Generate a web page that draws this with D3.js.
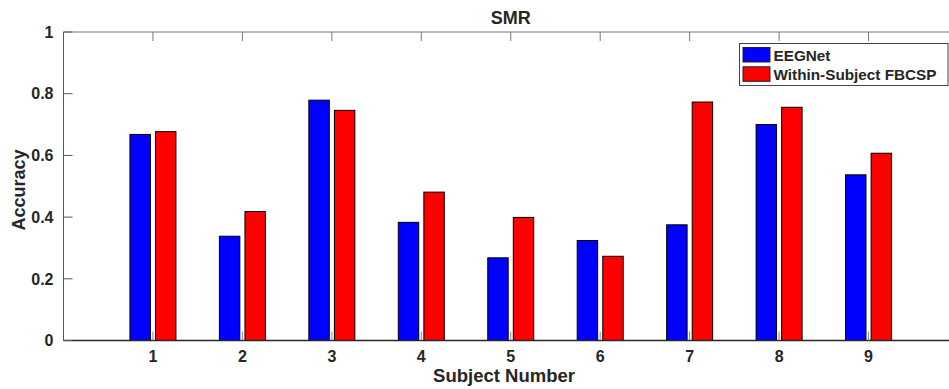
<!DOCTYPE html>
<html><head><meta charset="utf-8">
<script src="https://cdn.jsdelivr.net/npm/d3@7"></script>
<style>body{margin:0;background:#fff}svg{display:block}text{font-family:"Liberation Sans",Arial,Helvetica,sans-serif;font-weight:bold;fill:#262626}</style>
</head><body><svg id="c" width="949" height="389"></svg>
<script>
const subjects = [1,2,3,4,5,6,7,8,9];
const eegnet = [0.668,0.338,0.779,0.383,0.268,0.324,0.375,0.700,0.537];
const fbcsp  = [0.677,0.418,0.746,0.481,0.399,0.273,0.773,0.756,0.607];
const seriesNames = ["EEGNet","Within-Subject FBCSP"];
const seriesColors = ["#0000ff","#ff0000"];
const yTicks = [0,0.2,0.4,0.6,0.8,1];
const yTickLabels = ["0","0.2","0.4","0.6","0.8","1"];

const svg = d3.select("#c");
const L = 63.5, R = 958, T = 32, B = 340.5;
const x = d3.scaleLinear().domain([0,10]).range([L,R]);
const y = d3.scaleLinear().domain([0,1]).range([B,T]);
const axisColor = "#262626";
const series = [eegnet, fbcsp];
const gw = 2/3.5, off = gw/4, bw = gw/2*0.8;

// bars
series.forEach((vals,si)=>{
  svg.append("g").selectAll("rect").data(vals).enter().append("rect")
    .attr("x",(d,i)=>x(subjects[i]+(si===0?-off:off)-bw/2))
    .attr("width",x(bw)-x(0))
    .attr("y",d=>y(d)).attr("height",d=>y(0)-y(d))
    .attr("fill",seriesColors[si]).attr("stroke","#000").attr("stroke-width",1);
});

// box
const g = svg.append("g").attr("stroke",axisColor).attr("stroke-width",1).attr("fill","none");
g.append("line").attr("x1",L).attr("x2",R).attr("y1",B).attr("y2",B).attr("stroke-width",1.3);
g.append("line").attr("x1",L).attr("x2",R).attr("y1",T).attr("y2",T).attr("stroke","#777");
g.append("line").attr("x1",L).attr("x2",L).attr("y1",T).attr("y2",B).attr("stroke","#555");
g.append("line").attr("x1",R).attr("x2",R).attr("y1",T).attr("y2",B).attr("stroke","#777");

// y ticks
const tl = 9;
yTicks.forEach((t,i)=>{
  g.append("line").attr("x1",L).attr("x2",L+tl).attr("y1",y(t)).attr("y2",y(t)).attr("stroke","#555");
  g.append("line").attr("x1",R).attr("x2",R-tl).attr("y1",y(t)).attr("y2",y(t)).attr("stroke","#777");
  svg.append("text").attr("x",L-10).attr("y",y(t)).attr("dy","0.36em")
    .attr("text-anchor","end").attr("font-size",16).text(yTickLabels[i]);
});
// x ticks
subjects.forEach(s=>{
  g.append("line").attr("x1",x(s)).attr("x2",x(s)).attr("y1",B).attr("y2",B-tl).attr("stroke","#888");
  g.append("line").attr("x1",x(s)).attr("x2",x(s)).attr("y1",T).attr("y2",T+tl).attr("stroke","#777");
  svg.append("text").attr("x",x(s)).attr("y",362).attr("text-anchor","middle")
    .attr("font-size",16).text(s);
});

// title and labels
svg.append("text").attr("x",(L+R)/2).attr("y",23.5).attr("text-anchor","middle").attr("font-size",18).text("SMR");
svg.append("text").attr("x",504).attr("y",382).attr("text-anchor","middle").attr("font-size",18.5).text("Subject Number");
svg.append("text").attr("transform","translate(25,190) rotate(-90)").attr("text-anchor","middle").attr("font-size",18).text("Accuracy");

// legend
const lg = svg.append("g");
lg.append("rect").attr("x",739.5).attr("y",43.5).attr("width",208.5).attr("height",42)
  .attr("fill","#fff").attr("stroke","#444").attr("stroke-width",1);
seriesNames.forEach((n,i)=>{
  lg.append("rect").attr("x",743).attr("y",47.5+i*19.3).attr("width",27).attr("height",14.5)
    .attr("fill",seriesColors[i]).attr("stroke","#222").attr("stroke-width",1);
  lg.append("text").attr("x",773.5).attr("y",60.5+i*19.3).attr("font-size",15.3).text(n);
});
</script></body></html>
